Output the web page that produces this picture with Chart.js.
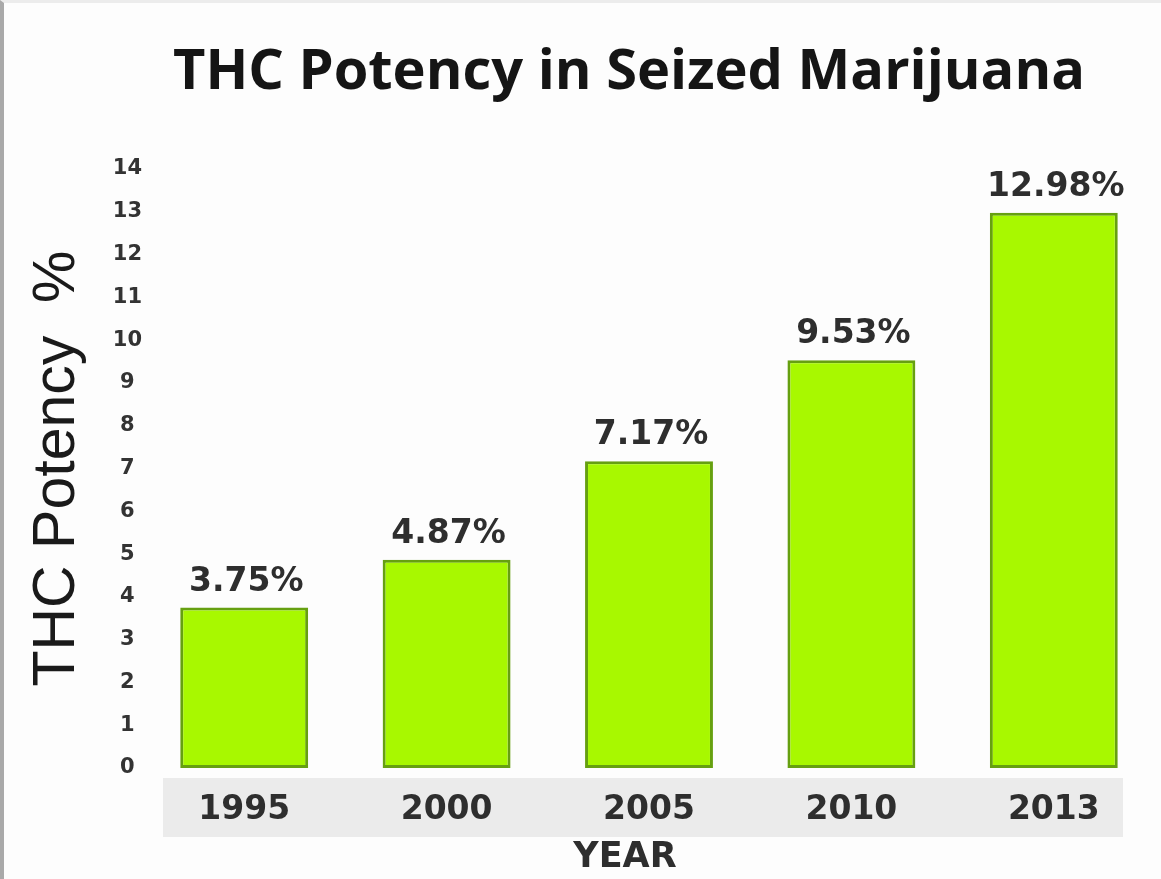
<!DOCTYPE html>
<html>
<head>
<meta charset="utf-8">
<script src="https://cdn.jsdelivr.net/npm/chart.js@4.4.1/dist/chart.umd.min.js"></script>
<style>
  html, body { margin: 0; padding: 0; background: #fdfdfd; }
  #wrap { width: 1157px; height: 876px; border-left: 4px solid #a9a9a9; border-top: 3px solid #ececec; background: #fdfdfd; }
</style>
</head>
<body>
<div id="wrap"><canvas id="thcChart" width="1157" height="876"></canvas></div>
<script>
// values
const years = ['1995', '2000', '2005', '2010', '2013'];
const potency = [3.75, 4.87, 7.17, 9.53, 12.98];
const potencyLabels = ['3.75%', '4.87%', '7.17%', '9.53%', '12.98%'];
const yMin = 0;
const yMax = 14;
const yStep = 1;

const chartTitle = 'THC Potency in Seized Marijuana';
const yTitle = 'THC Potency  %';
const xTitle = 'YEAR';

// gray strip behind the year labels
const yearBand = {
  id: 'yearBand',
  beforeDraw(chart) {
    const a = chart.chartArea;
    const c = chart.ctx;
    c.save();
    c.fillStyle = '#ebebeb';
    c.fillRect(a.left + 20, a.bottom + 10, a.right - a.left - 52, 59);
    c.restore();
  }
};

// title and YEAR sit a little left of the plot centre in the original
const titles = {
  id: 'titles',
  afterDraw(chart) {
    const a = chart.chartArea;
    const c = chart.ctx;
    const mid = (a.left + a.right) / 2;
    c.save();
    c.textAlign = 'center';
    c.textBaseline = 'middle';
    c.font = 'bold 56px "Open Sans"';
    c.fillStyle = '#151515';
    c.fillText(chartTitle, mid - 20, 70);
    c.font = 'bold 35px "DejaVu Sans"';
    c.fillStyle = '#2e2e2e';
    c.fillText(xTitle, mid - 24, a.bottom + 90);
    c.restore();
  }
};

// value above each bar
const barValues = {
  id: 'barValues',
  afterDatasetsDraw(chart) {
    const c = chart.ctx;
    const meta = chart.getDatasetMeta(0);
    c.save();
    c.font = 'bold 33px "DejaVu Sans"';
    c.fillStyle = '#2e2e2e';
    c.textAlign = 'center';
    c.textBaseline = 'alphabetic';
    meta.data.forEach((bar, i) => {
      c.fillText(potencyLabels[i], bar.x + 2, bar.y - 17);
    });
    c.restore();
  }
};

const ctx = document.getElementById('thcChart');
const myChart = new Chart(ctx, {
  type: 'bar',
  data: {
    labels: years,
    datasets: [{
      label: 'THC Potency',
      data: potency,
      backgroundColor: '#a8f800',
      borderColor: '#66a010',
      borderWidth: 3,
      borderSkipped: false,
      barPercentage: 0.632,
      categoryPercentage: 1
    }]
  },
  options: {
    responsive: false,
    animation: false,
    layout: { padding: { top: 166, right: 6, bottom: 0, left: 0 } },
    plugins: {
      legend: { display: false },
      title: { display: false },
      tooltip: { enabled: false }
    },
    scales: {
      x: {
        afterFit(scale) { scale.height = 111; },
        grid: { display: false, drawTicks: false },
        border: { display: false },
        ticks: {
          padding: 23,
          color: '#2e2e2e',
          font: { family: 'DejaVu Sans', size: 33, weight: 'bold' }
        }
      },
      y: {
        min: yMin,
        max: yMax,
        afterFit(scale) { scale.width = 139; },
        grid: { display: false, drawTicks: false },
        border: { display: false },
        ticks: {
          stepSize: yStep,
          padding: 1,
          crossAlign: 'center',
          color: '#333333',
          font: { family: 'DejaVu Sans', size: 21, weight: 'bold' }
        },
        title: {
          display: true,
          text: yTitle,
          color: '#1a1a1a',
          padding: { top: 18, bottom: 10 },
          font: { family: 'Liberation Sans', size: 59 }
        }
      }
    }
  },
  plugins: [yearBand, titles, barValues]
});
</script>
</body>
</html>
